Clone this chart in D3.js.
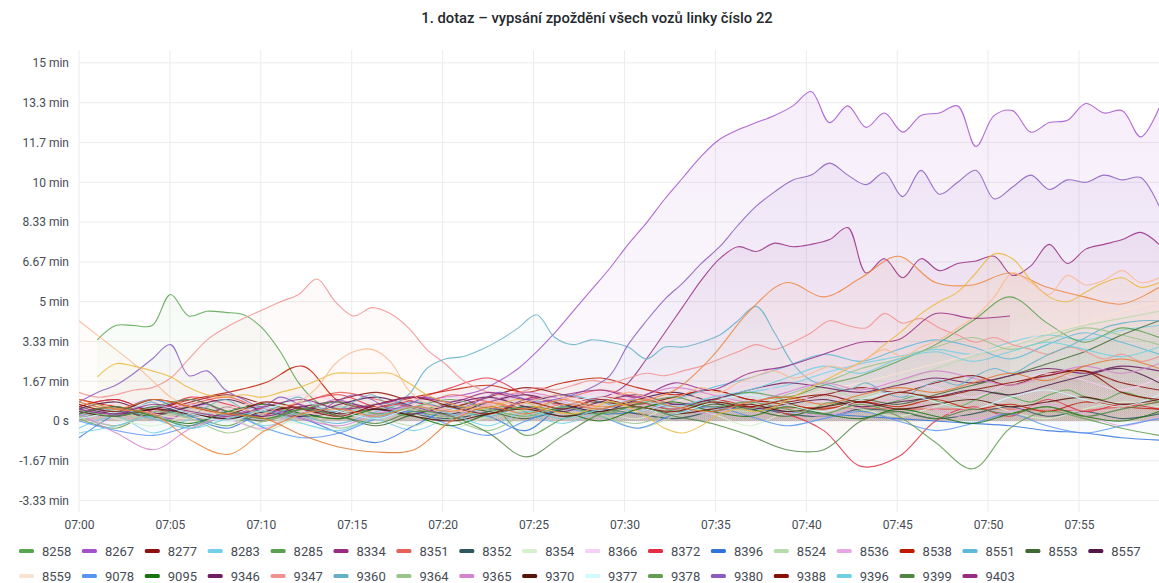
<!DOCTYPE html>
<html>
<head>
<meta charset="utf-8">
<script src="https://cdn.jsdelivr.net/npm/d3@7"></script>
<style>
body { margin: 0; background: #fff; font-family: Roboto, "Noto Sans", sans-serif; }
.tick text { fill: #464c54; font-size: 12px; font-family: Roboto, sans-serif; }
.grid line { stroke: #ececec; }
</style>
</head>
<body>
<script>
// delays are in minutes; fine series have ~1 point per minute, coarse ones ~every 2 minutes
var title = "1. dotaz – vypsání zpoždění všech vozů linky číslo 22";

var yTicks = [-10/3, -5/3, 0, 5/3, 10/3, 5, 20/3, 25/3, 10, 35/3, 40/3, 15];
var yLabels = ["-3.33 min", "-1.67 min", "0 s", "1.67 min", "3.33 min", "5 min",
               "6.67 min", "8.33 min", "10 min", "11.7 min", "13.3 min", "15 min"];

var ids = ["8258","8267","8277","8283","8285","8334","8351","8352","8354","8366","8372","8396",
           "8524","8536","8538","8551","8553","8557",
           "8559","9078","9095","9346","9347","9360","9364","9365","9370","9377","9378","9380",
           "9388","9396","9399","9403"];
var colors = ["#56A64B","#A352CC","#8E1010","#73D0E8","#5AA04E","#962D82","#E8605A","#2F575E","#D5F0CB","#F5CFF5","#E02F44","#3274D9",
              "#B7DBAB","#E5A8E2","#BF1B00","#5DB8DA","#3F6833","#511749",
              "#F9E2D2","#5794F2","#19730E","#6D1F62","#F29191","#64B0C8","#9AC48A","#D683CE","#58140C","#CFFAFF","#629E51","#8A5CC0",
              "#890F02","#6ED0E0","#508642","#962D82"];
// series drawn in the plot whose legend entries are scrolled out of view
var extraColors = ["#EF843C","#EAB839","#F9BA8F","#E0752D"];

var v8258 = [null,3.4,4.0,4.0,4.0,5.3,4.4,4.6,4.55,4.45, 3.9,2.9,1.6,0.8,0.5,0.3,0.6,0.4,0.2,0.5,
             0.7,0.4,0.3,0.6,0.5,0.2,0.4,0.7,0.5,0.3, 0.6,0.8,0.5,0.4,0.7,0.9,0.6,0.8,1.0,0.7,
             0.5,0.8,0.6,0.4,0.7,0.9,1.1,0.8,0.6,0.9, 1.2,1.0,0.8,1.1,1.3,1.0,0.9,1.2,1.0,0.8];
var v8267 = [0.3,0.5,0.2,0.6,0.4,0.1,0.5,0.7,0.3,0.4, 0.8,0.5,0.3,0.6,0.9,0.7,0.5,0.8,1.0,0.9,
             1.0,1.1,1.3,1.7,2.2,2.9,3.7,4.6,5.5,6.4, 7.4,8.3,9.3,10.2,11.1,11.8,12.2,12.5,12.8,13.2,
             13.8,12.5,13.2,12.3,12.9,12.1,12.8,12.9,13.2,11.5, 12.8,13.0,12.1,12.5,12.6,13.3,12.9,13.0,11.9,13.1];
var v8277 = [0.6,0.9,0.4,0.8,1.1,0.7,0.5,0.9,1.2,0.8, 0.6,1.0,1.4,1.1,0.8,0.7,1.0,1.3,0.9,0.8,
             1.1,1.4,1.2,1.6,1.9,1.5,2.0,2.1,1.6,1.3];
var v8283 = [-0.3,0.2,-0.5,0.1,0.4,-0.2,0.3,0.6,0.1,-0.4, 0.2,0.5,0.3,-0.1,0.4,0.8,0.5,0.9,1.2,1.5,
             2.0,2.4,2.7,3.0,2.8,3.3,3.6,3.4,3.8,4.0];
var v8285 = [0.1,-0.3,0.4,0.2,-0.2,0.5,0.3,0.1,0.6,0.4, 0.2,0.7,-0.6,0.1,0.5,0.8,0.6,0.9,1.2,1.0,
             1.5,1.9,2.5,3.2,4.2,5.2,4.1,3.3,3.9,3.5];
var v8334 = [0.2,0.4,0.6,0.3,0.1,0.5,0.3,0.2,0.6,0.4, 0.2,0.5,0.7,0.4,0.3,0.6,0.5,0.8,0.6,0.4,
             0.7,0.9,0.6,0.5,0.8,1.0,0.7,0.6,0.9,1.1, 1.6,2.6,3.7,4.8,5.9,6.8,7.3,7.1,7.45,7.3,
             7.4,7.6,8.1,6.2,6.8,6.0,6.8,6.3,6.6,6.7, 6.9,6.1,6.5,7.4,6.6,7.2,7.4,7.6,7.9,7.4];
var v8351 = [0.9,0.6,0.3,0.7,1.0,0.5,0.8,1.2,0.9,0.6, 1.1,0.8,0.5,0.9,1.3,1.0,0.7,0.6,0.55,0.55,
             0.55,0.55,0.5,0.5,0.5,0.5,0.45,0.45,0.6,0.8];
var v8352 = [0.4,0.2,0.6,0.3,0.1,0.5,0.2,0.4,0.7,0.3, 0.1,0.4,0.6,0.2,0.5,0.3,0.1,0.4,0.6,0.3,
             0.2,0.5,0.4,0.1,0.3,0.6,0.2,0.4,0.1,0.3];
var v8354 = [0.5,0.1,-0.2,0.3,0.6,0.2,-0.1,0.4,0.7,0.3, -0.3,0.2,0.5,0.8,0.4,0.1,0.6,0.3,-0.2,0.4,
             0.7,0.5,0.2,0.6,0.9,0.4,0.1,0.5,0.8,0.6];
var v8366 = [0.2,0.6,0.9,0.5,0.3,0.7,1.1,0.8,0.4,0.6, 1.0,0.7,0.3,0.8,1.2,0.9,0.6,1.1,1.5,1.2,
             0.8,1.3,1.7,1.4,1.0,1.6,2.0,1.7,1.3,1.8];
var v8372 = [0.6,0.9,0.4,1.0,0.7,0.3,0.8,1.1,0.6,0.9, 1.4,1.8,1.1,0.7,1.0,0.8,0.5,0.9,0.6,0.3,
             -0.4,-1.9,-1.5,0.0,0.6,0.2,0.9,0.4,0.7,0.5];
var v8396 = [-0.7,0.3,0.9,0.2,-0.3,0.4,0.1,-0.5,-0.9,-0.2, 0.5,0.2,-0.4,0.6,0.3,0.4,0.7,0.6,0.5,0.4,
             0.3,0.2,0.1,0.0,-0.1,-0.2,-0.4,-0.5,-0.7,-0.8];
var v8524 = [0.8,0.4,0.1,0.5,0.2,-0.4,0.3,0.6,0.2,-0.2, 0.4,0.1,0.5,0.8,0.3,-0.3,0.2,0.6,0.4,0.9,
             1.3,1.0,1.6,2.2,2.7,3.1,3.6,4.0,4.3,4.6];
var v8536 = [0.3,-0.2,0.4,0.7,0.1,-0.3,0.5,0.2,0.6,0.9, 0.4,0.7,1.1,0.8,0.5,1.0,0.6,0.3,0.8,0.5,
             0.2,0.6,0.9,0.5,0.1,0.4,0.7,0.3,-0.2,0.2];
var v8538 = [0.9,0.6,0.5,0.9,1.2,1.6,2.3,0.8,0.6,1.0, 1.3,1.5,1.2,1.6,1.8,1.4,1.1,1.3,0.9,0.7,
             0.5,0.8,0.6,0.9,0.5,0.7,0.4,0.8,0.6,0.5];
var v8551 = [0.2,0.5,0.1,-0.3,0.3,0.6,0.2,-0.1,0.4,0.8, 0.5,0.2,0.7,1.1,0.8,0.4,0.9,1.4,1.8,2.3,
             2.8,2.5,3.0,3.4,3.1,2.6,3.2,3.7,3.3,2.8];
var v8553 = [0.1,0.4,0.2,0.6,0.3,0.0,0.5,0.2,-0.2,0.3, 0.6,0.4,0.1,0.5,0.8,0.6,0.3,0.7,0.5,0.2,
             0.6,0.9,0.7,1.1,1.5,1.9,2.4,2.9,3.6,4.2];
var v8557 = [0.5,0.8,0.3,0.6,0.9,0.4,0.2,0.7,1.0,0.6, 0.3,0.8,1.1,0.7,0.4,0.9,1.2,0.8,0.5,0.7,
             0.9,0.6,0.8,1.0,1.3,1.1,1.5,1.9,2.2,1.6];
var v8559 = [0.4,0.7,0.3,0.1,0.5,0.8,0.4,0.2,0.6,0.9, 0.5,0.3,0.7,1.0,0.6,0.4,0.8,1.1,0.7,0.9,
             1.3,1.6,2.0,2.4,2.8,3.2,3.7,4.1,4.6,5.0];
var v9078 = [0.0,-0.4,-0.6,-0.2,0.3,-0.3,-0.7,-0.5,0.1,0.4, -0.2,-0.6,0.0,0.5,0.2,-0.3,0.3,0.6,0.2,-0.2,
             0.1,0.4,0.0,-0.4,-0.1,0.3,-0.2,-0.5,-0.2,0.1];
var v9095 = [0.3,0.6,0.2,-0.1,0.4,0.7,0.3,0.1,0.5,0.2, -0.2,0.3,0.6,0.4,0.0,0.5,0.8,0.4,0.2,0.6,
             0.3,0.1,0.5,0.2,-0.1,0.3,0.6,0.2,0.0,0.4];
var v9346 = [0.6,0.3,0.5,0.9,0.4,0.2,0.6,0.8,0.5,0.3, 0.7,1.0,0.6,0.4,0.8,1.1,0.7,0.9,1.3,1.6,
             1.4,1.2,1.5,1.8,1.6,1.9,2.2,2.0,2.3,2.1];
var v9347 = [1.2,1.0,1.1,1.3,1.4,1.8,2.6,3.4,3.9,4.3, 4.65,5.0,5.3,5.95,5.0,4.4,4.75,4.5,3.9,3.0,
             2.4,1.7,1.3,1.1,1.2,1.4,1.3,1.5,1.7,1.6, 1.8,2.0,1.9,2.1,2.3,2.6,2.9,3.2,3.0,3.3,
             3.7,4.2,4.0,3.9,4.5,4.1,4.3,3.9,3.6,3.3, 3.5,3.2,3.0,2.8,3.1,2.9,2.6,2.8,2.5,2.7];
var v9360 = [0.4,0.7,0.3,0.5,0.8,0.4,0.2,0.6,0.9,0.5, 0.3,0.7,1.0,0.6,0.4,0.8,1.1,0.7,1.1,2.2,
             2.6,2.7,3.0,3.4,3.9,4.45,3.5,3.2,3.4,3.3, 3.1,2.6,3.1,3.1,3.3,3.6,4.2,4.8,3.7,2.4,
             1.7,1.5,1.3,1.6,1.2,1.0,1.4,1.7,1.5,1.9, 2.2,2.0,2.4,2.8,3.1,3.5,3.9,4.1,4.2,4.2];
var v9364 = [0.2,-0.2,0.4,0.1,-0.5,0.0,0.3,-0.3,0.2,0.5, 0.1,-0.4,0.3,0.6,0.2,-0.1,0.4,0.8,0.5,1.1,
             1.6,2.2,2.6,3.1,3.5,3.0,3.4,3.9,3.6,3.2];
var v9365 = [0.3,-0.5,-1.2,-0.3,0.2,0.5,0.1,-0.2,0.3,0.6, 0.2,0.8,1.2,0.9,0.5,1.0,1.4,1.1,0.8,1.2,
             1.6,1.3,1.7,2.1,1.8,1.5,1.9,2.3,2.0,2.4];
var v9370 = [0.4,0.2,0.5,0.3,0.1,0.4,0.6,0.3,0.5,0.2, 0.0,0.3,0.5,0.2,0.4,0.6,0.3,0.5,0.7,0.4,
             0.6,0.8,0.5,0.7,0.9,0.6,0.8,1.0,0.7,0.9];
var v9377 = [0.1,0.4,0.7,0.3,0.0,0.5,0.8,0.4,0.1,0.6, 0.9,0.5,0.2,0.7,1.0,0.6,0.3,0.8,1.1,0.7,
             0.4,0.9,1.2,0.8,0.5,1.0,1.3,0.9,0.6,1.1];
var v9378 = [0.5,0.2,0.6,0.9,0.4,0.1,0.5,0.8,0.3,0.6, 0.9,0.5,0.2,0.6,0.3,0.7,1.0,0.6,0.8,0.5,
             0.3,0.7,0.2,-0.9,-2.0,-0.3,0.4,0.1,-0.3,-0.6];
var v9380 = [0.8,1.2,1.5,2.0,2.6,3.2,1.9,2.1,1.3,0.9, 0.6,1.0,0.7,0.4,0.8,1.1,0.9,0.5,0.7,1.0,
             0.8,0.6,0.9,1.2,1.0,0.8,0.9,1.1,1.4,1.9, 3.2,4.2,5.1,5.8,6.6,7.3,8.2,9.0,9.6,10.1,
             10.3,10.8,10.3,9.9,10.4,9.4,10.5,9.5,10.0,10.5, 9.3,9.8,10.3,9.7,10.1,10.0,10.3,10.1,10.2,9.0];
var v9388 = [0.7,0.4,0.9,0.6,0.3,0.8,0.5,0.2,0.7,1.0, 0.6,0.3,0.8,0.5,0.9,0.6,0.4,0.8,0.6,0.9,
             1.1,0.8,1.2,1.0,1.3,1.6,1.9,2.1,1.2,0.9];
var v9396 = [-0.5,-0.2,0.2,-0.3,0.1,0.4,-0.1,-0.4,0.2,0.6, 0.3,-0.2,0.4,0.1,0.5,0.9,0.6,1.0,1.3,1.8,
             2.3,2.0,2.6,2.9,2.5,2.9,3.3,3.0,2.7,3.1];
var v9399 = [0.3,0.6,0.2,-0.2,0.4,0.1,0.5,0.2,-0.1,0.4, 0.2,-0.5,-1.5,-0.6,0.3,0.6,0.2,-0.1,-0.6,-1.2,
             -1.2,0.0,0.4,0.1,0.5,0.3,0.6,0.2,0.5,0.8];
var v9403 = [0.5,0.3,0.7,0.4,0.2,0.6,0.9,0.5,0.7,1.0, 0.8,1.2,0.9,1.1,1.3,1.0,1.6,1.3,2.0,2.3,
             2.8,3.3,3.4,4.5,4.3,4.4,null,null,null,null];
var vOrange = [0.9,0.5,0.3,-0.8,-1.4,-0.4,0.3,0.5,0.2,0.6, 0.4,0.8,0.5,0.9,0.6,0.8,1.3,2.7,4.6,5.8,
               5.2,6.0,6.9,5.8,5.7,6.2,5.6,5.2,4.9,5.6];
var vYellow = [null,1.85,2.4,2.3,2.1,1.85,1.4,1.1,1.0,1.1, 1.0,1.2,1.4,1.7,2.0,2.0,2.0,2.0,1.6,1.1,
               0.8,0.6,0.5,0.7,0.9,0.6,0.4,0.3,0.5,0.8, 0.6,0.2,-0.3,-0.5,-0.2,0.3,0.5,0.4,0.6,1.0,
               1.4,1.8,2.2,2.6,3.2,3.8,4.5,5.0,5.4,6.2, 7.0,6.8,5.9,5.2,5.0,5.4,5.8,6.0,5.6,5.8];
var vPeach = [4.2,3.6,3.0,2.4,1.7,1.0,0.6,0.4,0.3,0.5, 0.3,0.6,0.8,1.4,2.4,2.9,3.0,2.5,1.3,0.7,
              0.5,0.4,0.6,0.8,0.7,0.9,1.1,0.8,0.6,0.9, 1.2,1.0,0.8,1.1,1.4,1.2,1.6,1.9,2.1,1.8,
              2.0,2.3,2.2,2.6,3.0,2.7,3.1,3.4,3.9,4.4, 5.2,6.2,5.8,5.3,6.1,5.7,5.9,6.3,5.8,6.0];
var vBrown = [0.8,0.5,0.9,0.6,0.3,0.1,-0.6,-1.1,-1.3,-1.2, 0.0,0.6,0.3,0.7,0.5,0.9,0.6,0.4,0.8,1.0,
              0.7,1.1,1.4,1.2,1.6,2.0,1.7,2.3,2.6,2.2];

var values = [v8258,v8267,v8277,v8283,v8285,v8334,v8351,v8352,v8354,v8366,v8372,v8396,
              v8524,v8536,v8538,v8551,v8553,v8557,
              v8559,v9078,v9095,v9346,v9347,v9360,v9364,v9365,v9370,v9377,v9378,v9380,
              v9388,v9396,v9399,v9403];
var extraValues = [vOrange, vYellow, vPeach, vBrown];

var width = 1159, height = 583;
var plot = {left: 79, right: 1159, top: 50, bottom: 512};
var span = 59.4; // minutes shown
var t0 = new Date(2021, 0, 1, 7, 0, 0);
var minute = function(m) { return new Date(t0.getTime() + m * 60000); };

var x = d3.scaleTime().domain([t0, minute(span)]).range([plot.left, plot.right]);
var y = d3.scaleLinear().domain([-3.81, 15.54]).range([plot.bottom, plot.top]);

var svg = d3.select("body").append("svg")
    .attr("width", width)
    .attr("height", height);

svg.append("text")
    .attr("x", 597).attr("y", 23)
    .attr("text-anchor", "middle")
    .style("font-family", "Roboto, sans-serif")
    .style("font-size", "14.8px")
    .style("font-weight", 500)
    .style("fill", "#24292e")
    .text(title);

// grid
svg.append("g").attr("class", "grid")
  .selectAll("line").data(yTicks).enter().append("line")
    .attr("x1", plot.left).attr("x2", plot.right)
    .attr("y1", function(d) { return y(d); }).attr("y2", function(d) { return y(d); });
var xTicks = x.ticks(d3.timeMinute.every(5));
svg.append("g").attr("class", "grid")
  .selectAll("line").data(xTicks).enter().append("line")
    .attr("y1", plot.top).attr("y2", plot.bottom)
    .attr("x1", function(d) { return x(d); }).attr("x2", function(d) { return x(d); });

// axes
var yAxis = svg.append("g")
    .attr("transform", "translate(" + plot.left + ",0)")
    .call(d3.axisLeft(y).tickValues(yTicks).tickFormat(function(d, i) { return yLabels[i]; })
      .tickSize(0).tickPadding(10));
yAxis.select(".domain").remove();

var xAxis = svg.append("g")
    .attr("transform", "translate(0," + plot.bottom + ")")
    .call(d3.axisBottom(x).tickValues(xTicks).tickFormat(d3.timeFormat("%H:%M"))
      .tickSize(0).tickPadding(8));
xAxis.select(".domain").remove();

// series
var defs = svg.append("defs");
defs.append("clipPath").attr("id", "clip").append("rect")
    .attr("x", plot.left).attr("y", plot.top)
    .attr("width", plot.right - plot.left).attr("height", plot.bottom - plot.top);

function toPoints(v) {
  var step = span / (v.length - 1);
  return v.map(function(d, j) { return {t: minute(j * step), v: d}; });
}
var series = ids.map(function(id, i) {
  return {id: id, color: colors[i], points: toPoints(values[i])};
});
var extras = extraColors.map(function(c, i) {
  return {id: null, color: c, points: toPoints(extraValues[i])};
});
var all = series.concat(extras);

all.forEach(function(s, i) {
  var g = defs.append("linearGradient").attr("id", "grad" + i)
      .attr("gradientUnits", "userSpaceOnUse")
      .attr("x1", 0).attr("x2", 0).attr("y1", plot.top).attr("y2", plot.bottom);
  g.append("stop").attr("offset", "0%").attr("stop-color", s.color).attr("stop-opacity", 0.11);
  g.append("stop").attr("offset", "100%").attr("stop-color", s.color).attr("stop-opacity", 0.0);
});

var curve = d3.curveCatmullRom.alpha(0.5);
var area = d3.area()
    .defined(function(d) { return d.v !== null; })
    .x(function(d) { return x(d.t); })
    .y0(y(0))
    .y1(function(d) { return y(d.v); })
    .curve(curve);
var line = d3.line()
    .defined(function(d) { return d.v !== null; })
    .x(function(d) { return x(d.t); })
    .y(function(d) { return y(d.v); })
    .curve(curve);

var plotG = svg.append("g").attr("clip-path", "url(#clip)");
plotG.selectAll(".area").data(all).enter().append("path")
    .attr("class", "area")
    .attr("d", function(d) { return area(d.points); })
    .style("fill", function(d, i) { return "url(#grad" + i + ")"; });
plotG.selectAll(".line").data(all).enter().append("path")
    .attr("class", "line")
    .attr("d", function(d) { return line(d.points); })
    .style("fill", "none")
    .style("stroke", function(d) { return d.color; })
    .style("stroke-width", 1.1)
    .style("stroke-opacity", 0.85);

// legend (only the two rows that fit in the panel)
var perRow = 18, itemW = 62.9;
var legend = svg.append("g");
var item = legend.selectAll("g").data(series).enter().append("g")
    .attr("transform", function(d, i) {
      return "translate(" + (19 + (i % perRow) * itemW) + "," + (551 + Math.floor(i / perRow) * 25) + ")";
    });
item.append("rect")
    .attr("x", 0).attr("y", -2).attr("width", 15).attr("height", 4).attr("rx", 1.5)
    .style("fill", function(d) { return d.color; });
item.append("text")
    .attr("x", 23).attr("dy", "0.35em")
    .style("font-family", "Roboto, sans-serif")
    .style("font-size", "13px")
    .style("fill", "#464c54")
    .text(function(d) { return d.id; });
</script>
</body>
</html>
